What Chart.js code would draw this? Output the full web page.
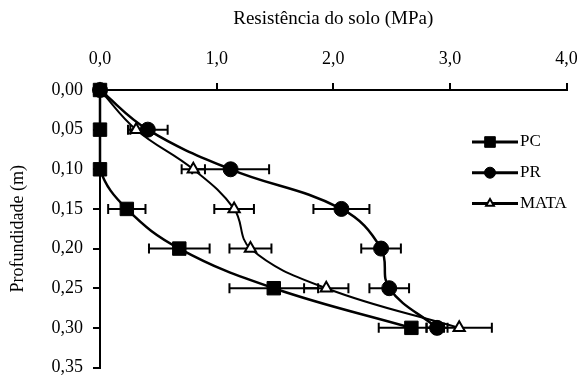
<!DOCTYPE html>
<html><head><meta charset="utf-8">
<script src="https://cdn.jsdelivr.net/npm/chart.js@4.4.1/dist/chart.umd.min.js"></script>
<style>html,body{margin:0;padding:0;background:#fff}#wrap{width:577px;height:378px}</style>
</head><body><div id="wrap"><canvas id="c" width="577" height="378"></canvas></div>
<script>
// ---- data ----
const depths = [0.00, 0.05, 0.10, 0.15, 0.20, 0.25, 0.30];
const seriesNames = ['PC', 'PR', 'MATA'];
const pcValues   = [0, 0, 0, 0.23, 0.68, 1.49, 2.67];
const pcErrors   = [0, 0, 0, 0.16, 0.26, 0.38, 0.28];
const prValues   = [0, 0.41, 1.12, 2.07, 2.41, 2.48, 2.89];
const prErrors   = [0, 0.17, 0.33, 0.24, 0.17, 0.17, 0.09];
const mataValues = [0, 0.31, 0.80, 1.15, 1.29, 1.94, 3.08];
const mataErrors = [0, 0.05, 0.10, 0.17, 0.18, 0.19, 0.28];
const xTickValues = [0, 1, 2, 3, 4];
const yTickValues = [0.00, 0.05, 0.10, 0.15, 0.20, 0.25, 0.30, 0.35];
const xTitle = 'Resistência do solo (MPa)';
const yTitle = 'Profundidade (m)';

const FONT = '"Liberation Serif", "Times New Roman", serif';

function toPoints(vals) { return vals.map((v, i) => ({ x: v, y: depths[i] })); }

const errorBarPlugin = {
  id: 'errorBars',
  beforeDatasetsDraw(chart) {
    const ctx = chart.ctx, xs = chart.scales.x, ys = chart.scales.y;
    chart.data.datasets.forEach(ds => {
      const errs = ds.errors; if (!errs) return;
      ctx.save(); ctx.strokeStyle = '#000'; ctx.lineWidth = 2;
      ds.data.forEach((p, i) => {
        const e = errs[i]; if (!e) return;
        const x0 = xs.getPixelForValue(p.x - e), x1 = xs.getPixelForValue(p.x + e), y = ys.getPixelForValue(p.y);
        ctx.beginPath();
        ctx.moveTo(x0, y); ctx.lineTo(x1, y);
        ctx.moveTo(x0, y - 5); ctx.lineTo(x0, y + 5);
        ctx.moveTo(x1, y - 5); ctx.lineTo(x1, y + 5);
        ctx.stroke();
      });
      ctx.restore();
    });
  }
};

const legendPlugin = {
  id: 'insideLegend',
  afterDraw(chart) {
    const ctx = chart.ctx;
    const lx0 = 472, lx1 = 518, mx = 490, tx = 520, y0 = 142, dy = 30.7;
    chart.data.datasets.forEach((ds, i) => {
      const y = y0 + i * dy;
      ctx.save();
      ctx.strokeStyle = '#000'; ctx.lineWidth = 3;
      ctx.beginPath(); ctx.moveTo(lx0, y); ctx.lineTo(lx1, y); ctx.stroke();
      ctx.fillStyle = ds.pointBackgroundColor; ctx.strokeStyle = '#000';
      ctx.lineWidth = ds.pointBorderWidth;
      Chart.helpers.drawPoint(ctx, { pointStyle: ds.pointStyle, radius: ds.legendRadius, borderWidth: ds.pointBorderWidth, rotation: 0 }, mx, y);
      ctx.fillStyle = '#000';
      ctx.font = '17px ' + FONT;
      ctx.textBaseline = 'middle'; ctx.textAlign = 'left';
      ctx.fillText(ds.label, tx, y);
      ctx.restore();
    });
  }
};

const baseDs = { borderColor: '#000', pointBorderColor: '#000', showLine: true, tension: 0.4, clip: false, pointHoverRadius: 0 };

new Chart(document.getElementById('c'), {
  type: 'scatter',
  data: {
    datasets: [
      Object.assign({}, baseDs, { label: seriesNames[0], data: toPoints(pcValues), errors: pcErrors, borderWidth: 2.5,
        pointStyle: 'rect', pointRadius: 9.5, legendRadius: 7.5, pointBackgroundColor: '#000', pointBorderWidth: 1 }),
      Object.assign({}, baseDs, { label: seriesNames[1], data: toPoints(prValues), errors: prErrors, borderWidth: 2.5,
        pointStyle: 'circle', pointRadius: 7.5, legendRadius: 5.5, pointBackgroundColor: '#000', pointBorderWidth: 1 }),
      Object.assign({}, baseDs, { label: seriesNames[2], data: toPoints(mataValues), errors: mataErrors, borderWidth: 2,
        pointStyle: 'triangle', pointRadius: 6.5, legendRadius: 4.5, pointBackgroundColor: '#fff', pointBorderWidth: 2 })
    ]
  },
  options: {
    responsive: false, animation: false, devicePixelRatio: 1,
    layout: { padding: { top: 0, left: 0, right: 10, bottom: 10 } },
    plugins: { legend: { display: false }, tooltip: { enabled: false } },
    scales: {
      x: {
        type: 'linear', position: 'top', min: 0, max: 4,
        afterBuildTicks(s) { s.ticks = xTickValues.map(v => ({ value: v })); },
        afterFit(s) { s.height = 90; s.paddingLeft = 0; s.paddingRight = 0; },
        border: { display: true, color: '#000', width: 2 },
        grid: { drawOnChartArea: false, drawTicks: true, tickLength: 7, color: '#000', lineWidth: 2 },
        ticks: { color: '#000', padding: 13, maxRotation: 0, font: { family: FONT, size: 18 },
          callback: v => v.toFixed(1).replace('.', ',') },
        title: { display: true, text: xTitle, color: '#000', font: { family: FONT, size: 19 }, padding: { top: 8, bottom: 0 } }
      },
      y: {
        type: 'linear', position: 'left', min: 0, max: 0.35, reverse: true,
        afterBuildTicks(s) { s.ticks = yTickValues.map(v => ({ value: v })); },
        afterFit(s) { s.width = 100; s.paddingTop = 0; s.paddingBottom = 0; },
        border: { display: true, color: '#000', width: 2 },
        grid: { drawOnChartArea: false, drawTicks: true, tickLength: 7, color: '#000', lineWidth: 2 },
        ticks: { color: '#000', padding: 10, font: { family: FONT, size: 18 },
          callback: v => v.toFixed(2).replace('.', ',') },
        title: { display: true, text: yTitle, color: '#000', font: { family: FONT, size: 18 }, padding: { top: 7, bottom: 0 } }
      }
    }
  },
  plugins: [errorBarPlugin, legendPlugin]
});
</script>
</body></html>
